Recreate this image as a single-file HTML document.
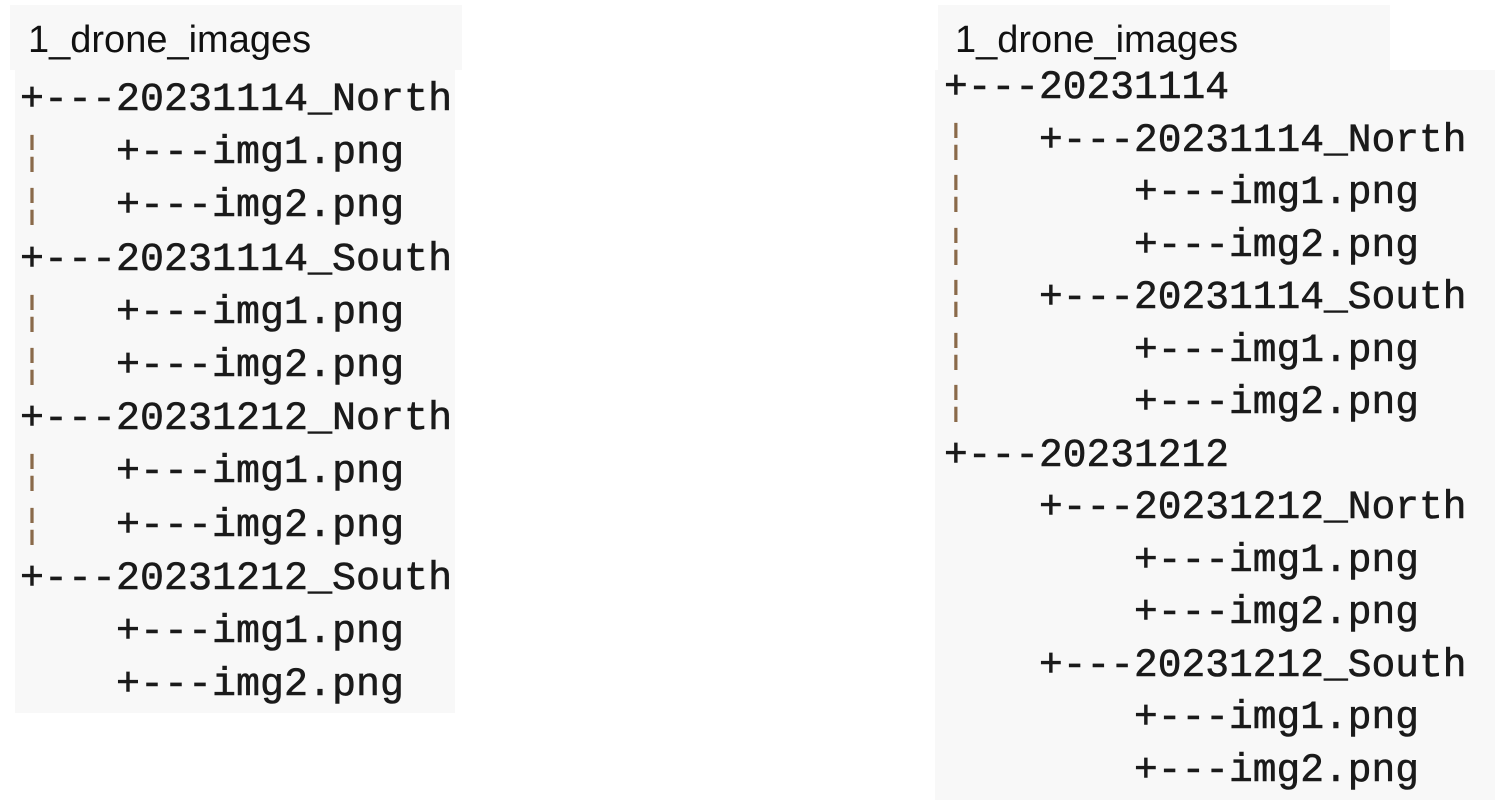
<!DOCTYPE html>
<html><head><style>
body{margin:0;width:1495px;height:800px;background:#fff;position:relative;overflow:hidden}
.box{position:absolute;background:#f8f8f8}
.title{position:absolute;font-family:"Liberation Sans",sans-serif;font-size:38px;color:#111;line-height:40px}
pre{position:absolute;margin:0;font-family:"Liberation Mono",monospace;font-size:40px;color:#1a1a1a;white-space:pre;-webkit-text-stroke:0.6px #1a1a1a}
.b{color:#8a6a4a;-webkit-text-stroke:0}
</style></head><body>
<div class="box" style="left:10px;top:5px;width:452px;height:65px"></div>
<div class="box" style="left:15px;top:70px;width:440px;height:643px"></div>
<div class="box" style="left:938px;top:5px;width:452px;height:65px"></div>
<div class="box" style="left:935px;top:70px;width:560px;height:730px"></div>
<div class="title" style="left:28px;top:20px">1_drone_images</div>
<div class="title" style="left:955px;top:20px">1_drone_images</div>
<pre style="left:20px;top:74px;line-height:53.2px">+---20231114_North
<span class="b">¦</span>   +---img1.png
<span class="b">¦</span>   +---img2.png
+---20231114_South
<span class="b">¦</span>   +---img1.png
<span class="b">¦</span>   +---img2.png
+---20231212_North
<span class="b">¦</span>   +---img1.png
<span class="b">¦</span>   +---img2.png
+---20231212_South
    +---img1.png
    +---img2.png</pre>
<pre style="left:944px;top:62px;line-height:52.5px;font-size:39.6px">+---20231114
<span class="b">¦</span>   +---20231114_North
<span class="b">¦</span>       +---img1.png
<span class="b">¦</span>       +---img2.png
<span class="b">¦</span>   +---20231114_South
<span class="b">¦</span>       +---img1.png
<span class="b">¦</span>       +---img2.png
+---20231212
    +---20231212_North
        +---img1.png
        +---img2.png
    +---20231212_South
        +---img1.png
        +---img2.png</pre>
</body></html>
